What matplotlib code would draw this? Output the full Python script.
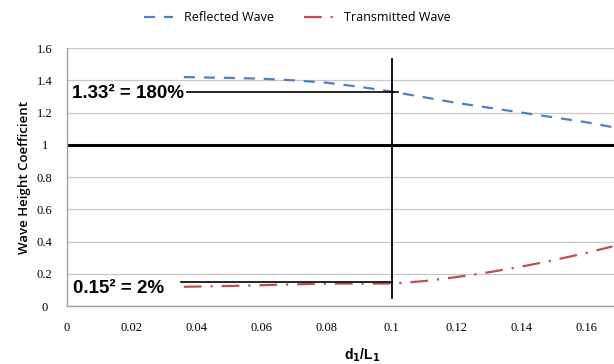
import numpy as np
import matplotlib
matplotlib.use("Agg")
import matplotlib.pyplot as plt

# values
d_over_L = [0.036, 0.05, 0.06, 0.07, 0.08, 0.09, 0.1, 0.11, 0.12, 0.13, 0.14, 0.15, 0.16, 0.168]
reflected = [1.42, 1.415, 1.41, 1.40, 1.385, 1.36, 1.33, 1.295, 1.26, 1.23, 1.20, 1.17, 1.14, 1.11]
transmitted = [0.12, 0.125, 0.13, 0.135, 0.14, 0.14, 0.14, 0.155, 0.18, 0.21, 0.245, 0.285, 0.33, 0.37]
x_ticks = [0, 0.02, 0.04, 0.06, 0.08, 0.1, 0.12, 0.14, 0.16]
x_tick_labels = ["0", "0.02", "0.04", "0.06", "0.08", "0.1", "0.12", "0.14", "0.16"]
y_ticks = [0, 0.2, 0.4, 0.6, 0.8, 1.0, 1.2, 1.4, 1.6]
y_tick_labels = ["0", "0.2", "0.4", "0.6", "0.8", "1", "1.2", "1.4", "1.6"]
marker_x = 0.1
ref_level = 1.33
trans_level = 0.15

fig = plt.figure(figsize=(6.14, 3.64), dpi=100)
ax = fig.add_axes([0.109, 0.159, 0.891, 0.709])

for y in y_ticks:
    ax.axhline(y, color="#c8c8c8", lw=0.9, zorder=0)
ax.axhline(1.0, color="black", lw=2.2, zorder=1)

ax.plot(d_over_L, reflected, color="#4f81bd", lw=1.6, ls=(0, (5, 4)), label="Reflected Wave", zorder=2)
ax.plot(d_over_L, transmitted, color="#c0504d", lw=1.6, ls=(0, (8, 4, 1, 4)), label="Transmitted Wave", zorder=2)

# reading lines and annotations
ax.plot([marker_x, marker_x], [0.05, 1.53], color="black", lw=1.3, zorder=3)
ax.plot([0.037, 0.102], [ref_level, ref_level], color="black", lw=1.2, zorder=3)
ax.plot([0.035, 0.1], [trans_level, trans_level], color="black", lw=1.2, zorder=3)
ax.text(0.0015, ref_level - 0.01, "1.33² = 180%", fontsize=13.5, fontweight="bold",
        family="Liberation Sans", va="center", ha="left")
ax.text(0.002, 0.11, "0.15² = 2%", fontsize=13.5, fontweight="bold",
        family="Liberation Sans", va="center", ha="left")

ax.set_xlim(0, 0.1685)
ax.set_ylim(0, 1.6)
ax.set_xticks(x_ticks)
ax.set_xticklabels(x_tick_labels, family="Liberation Serif", fontsize=9)
ax.set_yticks(y_ticks)
ax.set_yticklabels(y_tick_labels, family="Liberation Serif", fontsize=9)
ax.tick_params(length=0)
ax.tick_params(axis="y", pad=16)
ax.tick_params(axis="x", pad=11.5)
for lbl in ax.get_yticklabels():
    lbl.set_horizontalalignment("center")

for s in ["top", "right"]:
    ax.spines[s].set_visible(False)
for s in ["left", "bottom"]:
    ax.spines[s].set_color("#a0a0a0")
    ax.spines[s].set_linewidth(1)

ax.set_ylabel("Wave Height Coefficient", fontsize=9.5, family="Open Sans", fontweight="semibold", labelpad=4)
fig.text(362 / 614, 1 - 355 / 364, "d$_\\mathbf{1}$/L$_\\mathbf{1}$", fontsize=10, fontweight="bold",
         family="Liberation Sans", ha="center", va="center")

fig.legend(loc="upper center", bbox_to_anchor=(0.485, 1.0), ncol=2, frameon=False,
           handlelength=2.3, columnspacing=2.4, handletextpad=0.9,
           prop={"family": "Open Sans", "size": 9})

fig.savefig("out.png", dpi=100)
